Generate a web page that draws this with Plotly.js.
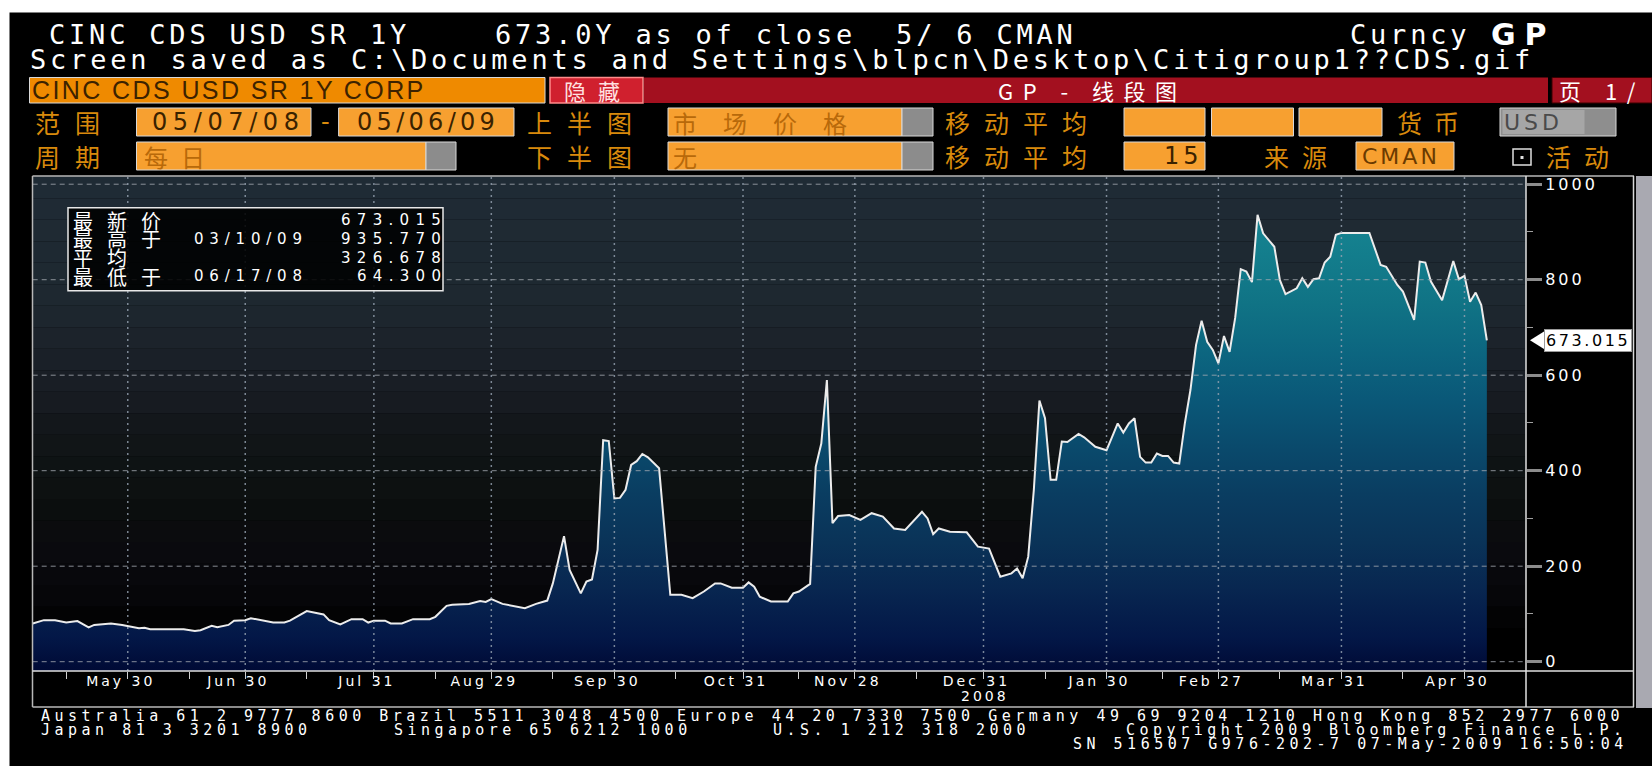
<!DOCTYPE html>
<html><head><meta charset="utf-8">
<script src="https://cdn.plot.ly/plotly-3.0.1.min.js"></script>
<style>html,body{margin:0;padding:0;background:#fff;overflow:hidden}</style>
</head><body><div id="chart" style="width:1652px;height:766px"></div>
<script>
// ---------------- DATA ----------------
const dates = ['2008-05-07','2008-05-09','2008-05-13','2008-05-15','2008-05-19','2008-05-21','2008-05-22','2008-05-27','2008-05-29','2008-05-30',
'2008-06-03','2008-06-04','2008-06-05','2008-06-13','2008-06-17','2008-06-18','2008-06-20','2008-06-23','2008-06-25','2008-06-26','2008-06-30',
'2008-07-01','2008-07-03','2008-07-07','2008-07-09','2008-07-10','2008-07-15','2008-07-18','2008-07-21','2008-07-23','2008-07-25','2008-07-29','2008-07-30','2008-07-31',
'2008-08-04','2008-08-05','2008-08-07','2008-08-11','2008-08-14','2008-08-15','2008-08-19','2008-08-20','2008-08-25','2008-08-27','2008-08-28','2008-08-29',
'2008-09-02','2008-09-04','2008-09-05','2008-09-08','2008-09-10','2008-09-12','2008-09-15','2008-09-17','2008-09-18','2008-09-22','2008-09-23','2008-09-24','2008-09-25','2008-09-26','2008-09-29','2008-09-30',
'2008-10-01','2008-10-02','2008-10-03','2008-10-06','2008-10-07','2008-10-08','2008-10-10','2008-10-14','2008-10-16','2008-10-20','2008-10-22','2008-10-24','2008-10-27','2008-10-29','2008-10-31',
'2008-11-03','2008-11-04','2008-11-05','2008-11-07','2008-11-12','2008-11-13','2008-11-14','2008-11-18','2008-11-19','2008-11-20','2008-11-21','2008-11-24','2008-11-25','2008-11-27',
'2008-12-01','2008-12-03','2008-12-05','2008-12-09','2008-12-11','2008-12-16','2008-12-17','2008-12-18','2008-12-19','2008-12-23','2008-12-26','2008-12-30',
'2009-01-01','2009-01-05','2009-01-07','2009-01-08','2009-01-09','2009-01-12','2009-01-13','2009-01-14','2009-01-15','2009-01-16','2009-01-19','2009-01-20','2009-01-21','2009-01-23','2009-01-26','2009-01-28','2009-01-30',
'2009-02-02','2009-02-03','2009-02-04','2009-02-05','2009-02-06','2009-02-09','2009-02-10','2009-02-11','2009-02-12','2009-02-13','2009-02-16','2009-02-17','2009-02-18','2009-02-19','2009-02-20','2009-02-23','2009-02-24','2009-02-25','2009-02-26','2009-02-27',
'2009-03-02','2009-03-03','2009-03-04','2009-03-05','2009-03-06','2009-03-09','2009-03-10','2009-03-11','2009-03-13','2009-03-16','2009-03-17','2009-03-19','2009-03-20','2009-03-23','2009-03-24','2009-03-25','2009-03-26','2009-03-27','2009-03-30','2009-03-31',
'2009-04-07','2009-04-09','2009-04-10','2009-04-14','2009-04-15','2009-04-17','2009-04-20','2009-04-21','2009-04-22','2009-04-24','2009-04-28','2009-04-29','2009-04-30',
'2009-05-01','2009-05-04','2009-05-05','2009-05-06'];
const cdsValues = [80,87,87,82,85,72,77,80,77,75,
70,71,68,68,64.3,66,75,72,77,86,87,
91,86,82,82,86,106,99,87,78,89,89,82,86,
86,80,80,89,89,94,117,119,121,127,125,131,
121,117,115,112,121,128,164,263,192,143,168,172,234,464,462,342,
343,360,412,420,435,428,405,140,140,133,147,164,164,155,155,
166,157,136,126,126,143,147,163,408,457,590,290,305,307,
297,311,304,279,276,314,300,267,279,272,271,241,
237,178,185,195,175,220,360,547,510,381,381,461,460,477,470,450,443,
471,499,480,499,510,429,417,417,436,431,431,417,415,499,569,663,714,670,653,625,
682,649,720,822,817,795,935.77,897,869,799,770,782,803,785,801,803,836,848,894,898,
898,831,827,789,775,716,838,836,796,757,839,801,808,
754,773,747,673.015];

const tickDates  = ['2008-05-30','2008-06-30','2008-07-31','2008-08-29','2008-09-30','2008-10-31','2008-11-28','2008-12-31','2009-01-30','2009-02-27','2009-03-31','2009-04-30'];
const tickLabels = ['May 30','Jun 30','Jul 31','Aug 29','Sep 30','Oct 31','Nov 28','Dec 31','Jan 30','Feb 27','Mar 31','Apr 30'];
const midMonthDates = ['2008-05-15','2008-06-16','2008-07-15','2008-08-15','2008-09-15','2008-10-15','2008-11-14','2008-12-15','2009-01-15','2009-02-13','2009-03-16','2009-04-15'];
const yTicks = [0,200,400,600,800,1000];
const yMinorTicks = [100,300,500,700,900];

const statLabels = ['最新价','最高于','平均','最低于'];
const statDates  = ['','03/10/09','','06/17/08'];
const statValues = ['673.015','935.770','326.678','64.300'];

// ---------------- LAYOUT HELPERS ----------------
const W = 1652, H = 766;
const PX = x => x / W, PY = y => 1 - y / H;
const plotL = 32.7, plotR = 1526, plotT = 176, plotB = 671;
const yMin = -19.5, yMax = 1017.2;
const unitsPerPx = (yMax - yMin) / (plotB - plotT);

const ann = [];
const shapes = [];
function ls(t, s){ return s ? '<span style="letter-spacing:'+s+'px">'+t+'</span>' : t; }
function T(text, x, y, o){
  o = o || {};
  ann.push({xref:'paper', yref:'paper', x:PX(x), y:PY(y), xanchor:o.anchor||'left', yanchor:'middle',
    showarrow:false, borderpad:0, text: ls(text, o.ls),
    font:{family:o.family||'DejaVu Sans Mono', size:o.size||27, color:o.color||'#ffffff', weight:o.weight||'normal'}});
}
function R(x0,y0,x1,y1,fill,line,lw,layer){
  shapes.push({type:'rect', xref:'paper', yref:'paper', x0:PX(x0), x1:PX(x1), y0:PY(y1), y1:PY(y0),
    fillcolor:fill, line:{color:line||'rgba(0,0,0,0)', width: line ? (lw||1) : 0}, layer:layer||'above'});
}
function L(x0,y0,x1,y1,color,w){
  shapes.push({type:'line', xref:'paper', yref:'paper', x0:PX(x0), x1:PX(x1), y0:PY(y0), y1:PY(y1),
    line:{color:color, width:w||1}, layer:'above'});
}

// page background: white top/left strip, black screen
R(9.5, 12.6, W, H, '#000000', null, 0, 'below');

// plot background bands (Bloomberg style)
const bgStops = [[-20,[0,0,0]],[60,[0,0,0]],[130,[6,6,9]],[220,[10,10,14]],[310,[11,14,14]],[400,[14,19,19]],
  [480,[18,22,25]],[560,[24,28,35]],[650,[27,33,41]],[750,[30,40,48]],[1020,[31,43,53]]];
function colAt(stops, v){
  for (let i=0;i<stops.length-1;i++){
    const a=stops[i], b=stops[i+1];
    if (v<=b[0]){ const t=Math.max(0,(v-a[0])/(b[0]-a[0]));
      return 'rgb('+a[1].map((c,k)=>Math.round(c+(b[1][k]-c)*t)).join(',')+')'; }
  }
  return 'rgb('+stops[stops.length-1][1].join(',')+')';
}
const bandStep = 45;
for (let v=yMin; v<yMax; v+=bandStep){
  const top = Math.min(v+bandStep, yMax);
  shapes.push({type:'rect', xref:'paper', yref:'y', x0:PX(plotL), x1:PX(plotR), y0:v, y1:top,
    fillcolor:colAt(bgStops,(v+top)/2), line:{width:0}, layer:'below'});
}

// gridlines drawn over the area (as in the terminal)
yTicks.forEach(v => shapes.push({type:'line', xref:'paper', yref:'y', x0:PX(plotL), x1:PX(plotR), y0:v, y1:v,
  line:{color:'rgba(165,170,178,0.8)', width:1, dash:'5px,4px'}, layer:'above'}));
tickDates.forEach(d => shapes.push({type:'line', xref:'x', yref:'paper', x0:d, x1:d, y0:PY(plotB), y1:PY(plotT),
  line:{color:'rgba(150,162,178,0.8)', width:1.5, dash:'2px,4px'}, layer:'above'}));

// panel frame
L(32.5,176,1634,176,'#b8b8b8',1.5);
L(32.5,176,32.5,707,'#b8b8b8',1.5);
L(32.5,707,1634,707,'#b8b8b8',1.5);
L(32.5,671,1634,671,'#e0e0e0',1.5);
L(1526,176,1526,707,'#e0e0e0',1.5);
L(1633.5,176,1633.5,707,'#d8d8d8',1.5);
R(1636,176,1652,708,'#a9a9b1',null);

// stats box
R(68,207.7,443,290.7,'rgba(0,0,0,0.88)','#e8e8e8',1.5);
const rowY = [220,239,257.5,276.5];
statLabels.forEach((t,i)=>T(t,72,rowY[i],{family:'Noto Sans CJK SC',size:20,ls:14}));
statDates.forEach((t,i)=>{ if(t) T(t,193,rowY[i],{family:'DejaVu Sans',size:15,ls:5.8}); });
statValues.forEach((t,i)=>T(t,448,rowY[i],{family:'DejaVu Sans',size:15,ls:6.3,anchor:'right'}));

// last value marker on the right axis
const lastVal = cdsValues[cdsValues.length-1];
const hh = 10*unitsPerPx;
shapes.push({type:'path', xref:'paper', yref:'y',
  path:'M '+PX(1530)+','+lastVal+' L '+PX(1546)+','+(lastVal+hh)+' L '+PX(1546)+','+(lastVal-hh)+' Z',
  fillcolor:'#ffffff', line:{color:'#ffffff',width:0}, layer:'above'});
ann.push({xref:'paper', yref:'y', x:PX(1544), y:lastVal, xanchor:'left', yanchor:'middle', showarrow:false,
  text: ls(lastVal.toFixed(3),2.6), bgcolor:'#ffffff', bordercolor:'#9a9a9a', borderwidth:1, borderpad:1,
  font:{family:'DejaVu Sans', size:16, color:'#000000'}});

// "2008" year label under Dec 31
T('2008',985,696,{family:'DejaVu Sans',size:14,ls:3,anchor:'center'});

// ---------------- HEADER ----------------
T('CINC CDS USD SR 1Y',48,35,{ls:3.8});
T('673.0Y as of close\u00a0\u00a05/\u00a06 CMAN',494,35,{ls:3.8});
T('Curncy',1349,35,{ls:3.8});
T('<b>GP</b>',1490,35,{family:'DejaVu Sans',size:30,ls:9});
T('Screen saved as C:\\Documents and Settings\\blpcn\\Desktop\\Citigroup1??CDS.gif',29,59.5,{ls:3.8});

// row 3
R(29.5,77.5,545,103,'#ef8a00','#d8d8d8',1);
T('CINC CDS USD SR 1Y CORP',31,90.5,{family:'Liberation Sans',size:25,ls:2.4,color:'#3c2200'});
R(550,77.5,643,103,'#d0202e','#ff8a8a',1.5);
T('隐藏',563,90.5,{family:'Noto Sans CJK SC',size:22,ls:12,color:'#ffe0e0'});
R(644,77.5,1548,103,'#a3101f',null);
T('GP - 线段图',997,90.5,{family:'Noto Sans CJK SC',size:22,ls:9.5,color:'#ffffff'});
R(1552,77.5,1652,103,'#a3101f','#3a0000',1);
T('页 1/',1558,90.5,{family:'Noto Sans CJK SC',size:22,ls:9.5,color:'#ffffff'});

const lblColor = '#d98a0c', boxFill = '#f7a030', boxLine = '#d8d8d8', boxText = '#3a2200', fadeText = '#b8690a';
const cjk = {family:'Noto Sans CJK SC',size:25,ls:15,color:lblColor};
// row 4
T('范围',34,122,cjk);
R(136.5,108,311,136,boxFill,boxLine);
T('05/07/08',151,122,{family:'DejaVu Sans',size:24,ls:5.6,color:boxText});
T('-',320,122,{family:'DejaVu Sans',size:24,color:lblColor});
R(338.6,108,514,136,boxFill,boxLine);
T('05/06/09',355.6,122,{family:'DejaVu Sans',size:24,ls:4.3,color:boxText});
T('上半图',526,122,cjk);
R(668,108,902,136,boxFill,boxLine); R(902,108,933,136,'#8c8c8c','#d8d8d8');
T('市场价格',672,122,{family:'Noto Sans CJK SC',size:24,ls:26,color:fadeText});
T('移动平均',944,122,Object.assign({},cjk,{ls:14}));
R(1124,108,1205,136,boxFill,boxLine);
R(1211.5,108,1293.5,136,boxFill,boxLine);
R(1299,108,1382,136,boxFill,boxLine);
T('货币',1396,122,Object.assign({},cjk,{ls:12}));
R(1500,108,1616,136,'#8e8e8e','#d8d8d8'); R(1502.5,110,1584.5,134,'#a6a6a6',null);
T('USD',1503,122,{family:'DejaVu Sans',size:22,ls:4,color:'#4a4a4a'});
// row 5
T('周期',34,156,cjk);
R(136.5,142,426,170,boxFill,boxLine); R(426,142,456,170,'#8c8c8c','#d8d8d8');
T('每日',143,156,{family:'Noto Sans CJK SC',size:24,ls:13,color:fadeText});
T('下半图',526,156,cjk);
R(668,142,902,170,boxFill,boxLine); R(902,142,933,170,'#8c8c8c','#d8d8d8');
T('无',672,156,{family:'Noto Sans CJK SC',size:24,color:fadeText});
T('移动平均',944,156,Object.assign({},cjk,{ls:14}));
R(1124,142,1205,170,boxFill,boxLine);
T('15',1204,156,{family:'DejaVu Sans',size:24,ls:4,color:boxText,anchor:'right'});
T('来源',1263,156,Object.assign({},cjk,{ls:13}));
R(1356,142,1454,170,boxFill,boxLine);
T('CMAN',1361,156,{family:'DejaVu Sans',size:22,ls:3,color:'#6a3a00'});
R(1513,149,1531,165,'#000000','#e0e0e0',1.5);
R(1520.5,156,1523.5,159,'#e0e0e0',null);
T('活动',1545,156,Object.assign({},cjk,{ls:13}));

// ---------------- FOOTER ----------------
const ff = {family:'DejaVu Sans Mono',size:15,ls:4.5};
T('Australia 61 2 9777 8600 Brazil 5511 3048 4500 Europe 44 20 7330 7500 Germany 49 69 9204 1210 Hong Kong 852 2977 6000',40,716.4,ff);
T('Japan 81 3 3201 8900',40,730,ff);
T('Singapore 65 6212 1000',393,730,ff);
T('U.S. 1 212 318 2000',772,730,ff);
T('Copyright 2009 Bloomberg Finance L.P.',1125,730,ff);
T('SN 516507 G976-202-7 07-May-2009 16:50:04',1072,744,ff);

// ---------------- TRACES ----------------
const fillStops = [[yMin,'#000a35'],[50,'#031747'],[150,'#082650'],[250,'#0a3358'],[350,'#0a3d61'],[450,'#0a4a6c'],
  [550,'#0a5878'],[650,'#0c6680'],[750,'#107385'],[850,'#137d8c'],[1000,'#188a97']];
const gradTop = 1000;
const traces = [
  {x:dates, y:dates.map(()=>yMin), type:'scatter', mode:'lines', line:{width:0,color:'rgba(0,0,0,0)'}, hoverinfo:'skip', showlegend:false},
  {x:dates, y:cdsValues, type:'scatter', mode:'lines', name:'CINC CDS USD SR 1Y',
   line:{color:'#ececec', width:2}, fill:'tonexty',
   fillgradient:{type:'vertical', start:yMin, stop:gradTop,
     colorscale: fillStops.map(s=>[(s[0]-yMin)/(gradTop-yMin), s[1]])},
   showlegend:false}
];

const layout = {
  width:W, height:H, margin:{l:0,r:0,t:0,b:0,pad:0},
  paper_bgcolor:'#ffffff', plot_bgcolor:'rgba(0,0,0,0)', showlegend:false,
  xaxis:{type:'date', domain:[PX(plotL),PX(plotR)], range:['2008-05-07','2009-05-15'],
    rangebreaks:[{bounds:['sat','mon']}],
    tickmode:'array', tickvals:tickDates, ticktext:tickLabels.map(t=>ls(t,3)), ticks:'',
    showgrid:false, zeroline:false, showline:false, ticklabelshift:-7,
    tickfont:{family:'DejaVu Sans', size:14, color:'#ffffff'},
    minor:{tickmode:'array', tickvals:tickDates.concat(midMonthDates), ticks:'outside', ticklen:7, tickwidth:1, tickcolor:'#d0d0d0', showgrid:false},
    fixedrange:true},
  yaxis:{domain:[PY(plotB),PY(plotT)], range:[yMin,yMax], side:'right',
    tickmode:'array', tickvals:yTicks, ticktext:yTicks.map(v=>ls(String(v),3)),
    ticks:'outside', ticklen:15, tickwidth:3, tickcolor:'#8c8c8c',
    minor:{tickmode:'array', tickvals:yMinorTicks, ticks:'outside', ticklen:6, tickwidth:1, tickcolor:'#a0a0a0', showgrid:false},
    showgrid:false, zeroline:false, showline:false,
    tickfont:{family:'DejaVu Sans', size:16, color:'#ffffff'}, fixedrange:true},
  shapes: shapes,
  annotations: ann
};

Plotly.newPlot('chart', traces, layout, {staticPlot:true, displayModeBar:false});
</script>
</body></html>
